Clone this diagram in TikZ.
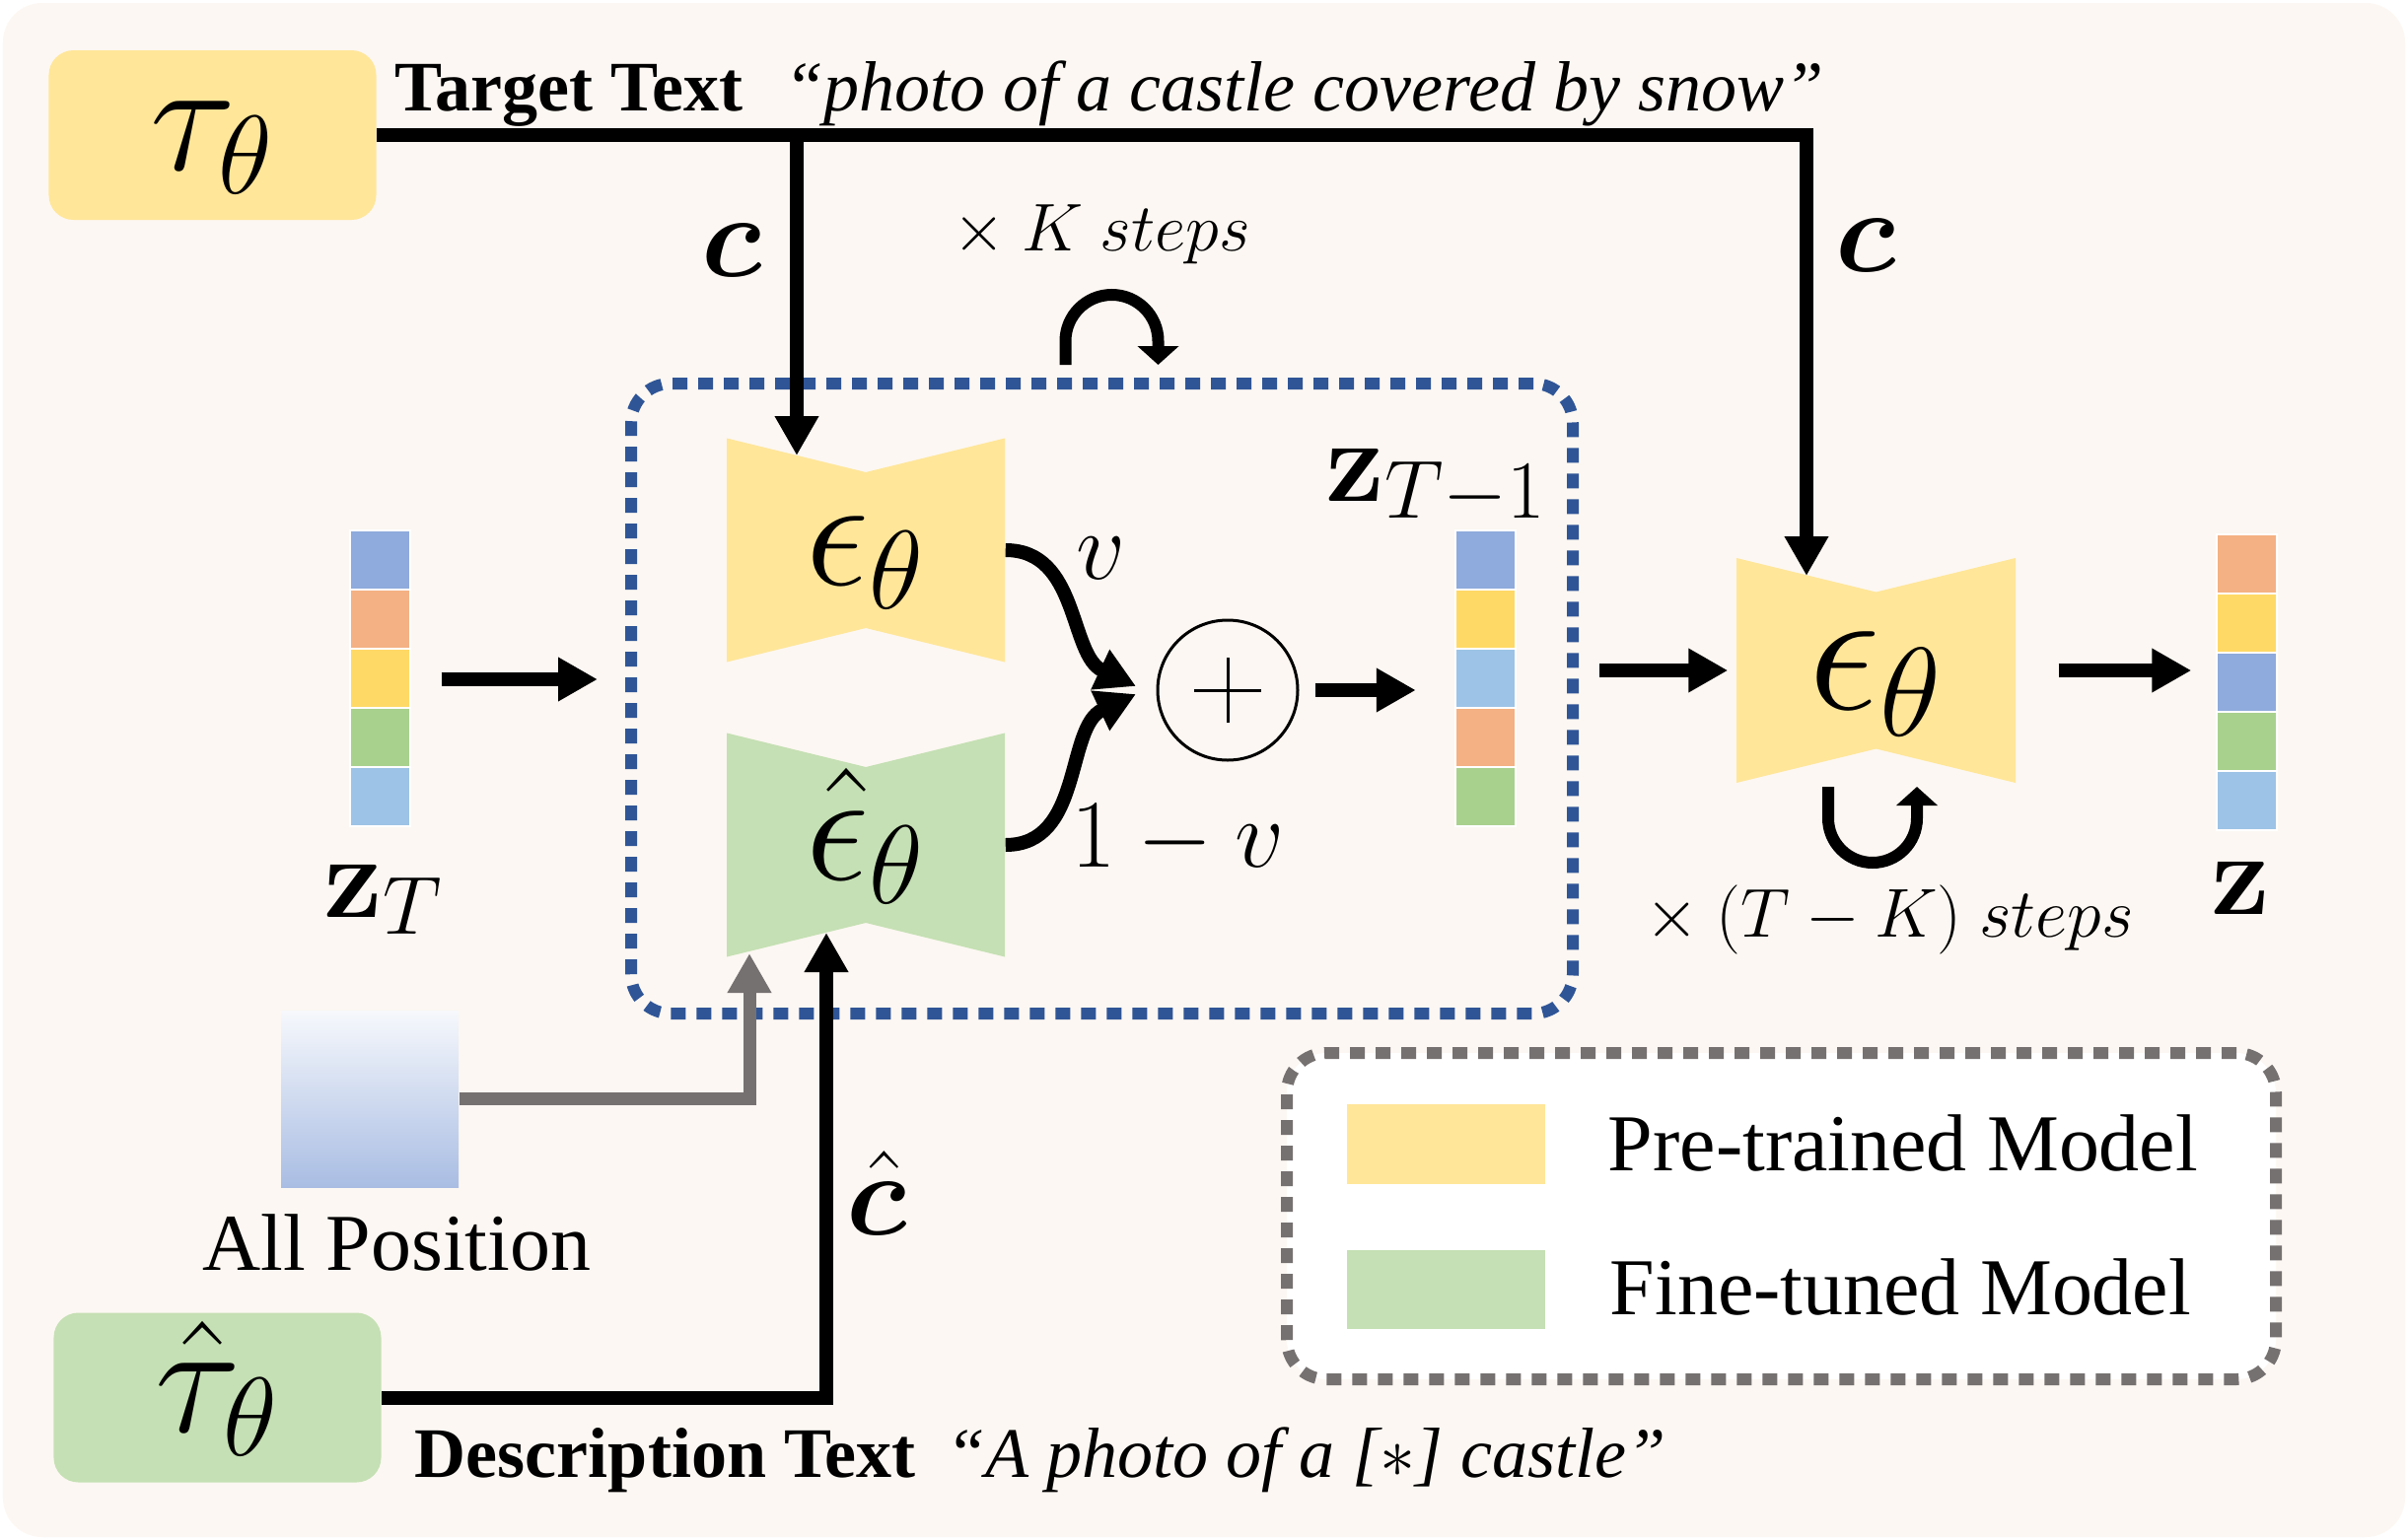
\RequirePackage{fix-cm}
\documentclass[tikz,border=0pt]{standalone}
\usepackage{amsmath}
\usepackage{bm}
\usepackage[no-math]{fontspec}
\setmainfont{Liberation Serif}
\usetikzlibrary{arrows.meta}

\definecolor{pretrain}{HTML}{FFE699}
\definecolor{finetune}{HTML}{C5E0B4}
\definecolor{bgcream}{HTML}{FCF7F2}
\definecolor{loopblue}{HTML}{2F5597}
\definecolor{posgray}{HTML}{767171}
\definecolor{cellblue}{HTML}{8FAADC}
\definecolor{cellorange}{HTML}{F4B183}
\definecolor{cellyellow}{HTML}{FFD966}
\definecolor{cellsky}{HTML}{9DC3E6}
\definecolor{cellgreen}{HTML}{A9D18E}
\definecolor{posTop}{HTML}{F6F8FC}
\definecolor{posBot}{HTML}{A9BDE3}

\begin{document}
\begin{tikzpicture}[x=1mm,y=1mm,>={Triangle[length=4mm,width=4.2mm]},
    arr/.style={->,line width=1.4mm},
    loopline/.style={line width=1.2mm,-{Triangle[length=1.9mm,width=4.1mm]}},
    unet/.style={minimum width=28.2mm,minimum height=22.7mm,inner sep=0pt,
      font=\fontsize{46}{50}\selectfont,text height=7mm,text depth=0pt,
      path picture={\fill[#1] (path picture bounding box.north west)
        -- ([yshift=-3.45mm]path picture bounding box.north)
        -- (path picture bounding box.north east)
        -- (path picture bounding box.south east)
        -- ([yshift=3.45mm]path picture bounding box.south)
        -- (path picture bounding box.south west) -- cycle;}},
    encoder/.style={fill=#1,rounded corners=2.5mm,inner sep=0pt,
      minimum width=33.2mm,minimum height=17.2mm,
      font=\fontsize{46}{50}\selectfont,text height=7mm,text depth=0pt},
    vec/.style={minimum width=6.1mm,minimum height=30mm,inner sep=0pt},
    dotbox/.style={line width=1.2mm,dash pattern=on 1.5mm off 1.1mm,
      rounded corners=4mm,inner sep=0pt},
    big/.style={font=\fontsize{34}{38}\selectfont},
    txt/.style={font=\fontsize{20.5}{24}\selectfont,anchor=base west},
    legtxt/.style={font=\fontsize{23.3}{27}\selectfont}]

  \useasboundingbox (0,0) rectangle (244.2,-156.2);
  \fill[white] (0,0) rectangle (244.2,-156.2);
  \fill[bgcream,rounded corners=4mm] (0.3,-0.3) rectangle (243.9,-155.9);

  \node[dotbox,draw=loopblue,minimum width=95.5mm,minimum height=63.9mm] (kbox) at (111.75,-70.85) {};
  \node[dotbox,draw=posgray,fill=white,minimum width=100.3mm,minimum height=33.1mm] (legend) at (180.65,-123.35) {};

  \node[encoder=pretrain] (tau) at (21.55,-13.7) {$\tau_\theta$};
  \node[encoder=finetune] (tauhat) at (22.05,-141.75) {$\hat{\tau}_\theta$};

  \node[unet=pretrain] (epsup) at (87.8,-55.8) {$\epsilon_\theta$};
  \node[unet=finetune] (epsdown) at (87.8,-85.7) {$\hat{\epsilon}_\theta$};
  \node[unet=pretrain,font=\fontsize{52}{56}\selectfont,text height=7.9mm,minimum width=28.3mm,minimum height=22.8mm] (epsout) at (190.25,-68.0) {$\epsilon_\theta$};

  \node[draw,circle,line width=0.3mm,minimum size=14.2mm,inner sep=0pt] (mix) at (124.5,-70.0) {};
  \draw[line width=0.3mm] ([xshift=-3.4mm]mix.center) -- ([xshift=3.4mm]mix.center);
  \draw[line width=0.3mm] ([yshift=-3.3mm]mix.center) -- ([yshift=3.3mm]mix.center);

  % latent vectors
  \node[vec] (zT) at (38.65,-68.9) {};
  \foreach \c [count=\i] in {cellblue,cellorange,cellyellow,cellgreen,cellsky}
    \filldraw[fill=\c,draw=white,line width=0.2mm] ([yshift={-6mm*(\i-1)}]zT.north west) rectangle +(6.1,-6);
  \node[vec] (zprev) at (150.7,-68.9) {};
  \foreach \c [count=\i] in {cellblue,cellyellow,cellsky,cellorange,cellgreen}
    \filldraw[fill=\c,draw=white,line width=0.2mm] ([yshift={-6mm*(\i-1)}]zprev.north west) rectangle +(6.1,-6);
  \node[vec] (zout) at (227.95,-69.3) {};
  \foreach \c [count=\i] in {cellorange,cellyellow,cellblue,cellgreen,cellsky}
    \filldraw[fill=\c,draw=white,line width=0.2mm] ([yshift={-6mm*(\i-1)}]zout.north west) rectangle +(6.1,-6);

  \node[vec,minimum width=18mm,minimum height=17.9mm,top color=posTop,bottom color=posBot] (allpos) at (37.5,-111.45) {};

  % arrow ends on the notched edges
  \coordinate (csplit) at (80.8,-13.7);
  \coordinate (cin) at (80.8,-46.2);
  \coordinate (cout) at (183.2,-58.4);
  \coordinate (chatin) at (83.8,-94.6);
  \coordinate (posin) at (76.0,-96.7);
  \coordinate (mixa) at (115.2,-69.6);
  \coordinate (mixb) at (115.2,-70.4);

  \draw[arr] (tau.east) -| (cout);
  \draw[arr] (csplit) -- (cin);
  \draw[arr] (tauhat.east) -| (chatin);
  \draw[arr,posgray,line width=1.3mm] (allpos.east) -| (posin);

  \draw[arr] (epsup.east) to[out=0,in=155] (mixa);
  \draw[arr] (epsdown.east) to[out=0,in=205] (mixb);

  \draw[arr,shorten <=3mm,shorten >=2.8mm] (zT.east) -- (zT.east -| kbox.west);
  \draw[arr,shorten <=1.6mm,shorten >=4mm] (mix.east) -- (mix.east -| zprev.west);
  \draw[arr,shorten <=2.1mm,shorten >=0.8mm] (kbox.east |- epsout.west) -- (epsout.west);
  \draw[arr,shorten <=4.3mm,shorten >=2.6mm] (epsout.east) -- (epsout.east -| zout.west);

  \draw[loopline] (108.05,-37.0) -- ++(0,2.4) arc[start angle=180,end angle=0,radius=4.7] -- ++(0,-2.4);
  \draw[loopline] (185.4,-79.8) -- ++(0,-3.2) arc[start angle=180,end angle=360,radius=4.5] -- ++(0,3.2);

  \node[big] (clbl) at (74.2,-25.35) {$\bm{c}$};
  \node[big] (coutlbl) at (189.25,-24.9) {$\bm{c}$};
  \node[big] (chatlbl) at (88.9,-121.0) {$\hat{\bm{c}}$};
  \node[font=\fontsize{28}{32}\selectfont] (vlbl) at (111.7,-56.6) {$v$};
  \node[font=\fontsize{28}{32}\selectfont] (onevlbl) at (119.45,-85.2) {$1-v$};
  \node[font=\fontsize{19.5}{22}\selectfont,anchor=base] (ksteps) at (111.7,-25.4) {$\times\ K\ steps$};
  \node[font=\fontsize{20}{24}\selectfont,anchor=base] (tksteps) at (191.6,-95.0) {$\times\ (T-K)\ steps$};

  \node[big,anchor=base] (zTlbl) at (38.9,-93.0) {$\mathbf{z}_T$};
  \node[big,anchor=base] (zprevlbl) at (145.65,-50.8) {$\mathbf{z}_{T-1}$};
  \node[big,anchor=base] (zoutlbl) at (227.2,-92.7) {$\mathbf{z}$};

  \node[txt] (targetlbl) at (38.8,-11.2) {\textbf{Target Text}};
  \node[txt] (targetquote) at (78.3,-11.2) {\textit{``photo of a castle covered by snow''}};
  \node[txt] (desclbl) at (40.85,-149.8) {\textbf{Description Text}};
  \node[txt] (descquote) at (94.7,-149.8) {\textit{``A photo of a [$\ast$] castle''}};
  \node[legtxt,anchor=base] (allposlbl) at (40.25,-128.8) {All Position};

  \node[fill=pretrain,minimum width=20.1mm,minimum height=8.1mm,inner sep=0pt] (keypre) at (146.65,-116.05) {};
  \node[fill=finetune,minimum width=20.1mm,minimum height=8.0mm,inner sep=0pt] (keyfine) at (146.65,-130.8) {};
  \node[legtxt,anchor=base west] (keypretxt) at (161.85,-118.7) {Pre-trained Model};
  \node[legtxt,anchor=base west] (keyfinetxt) at (162.05,-133.3) {Fine-tuned Model};
\end{tikzpicture}
\end{document}
